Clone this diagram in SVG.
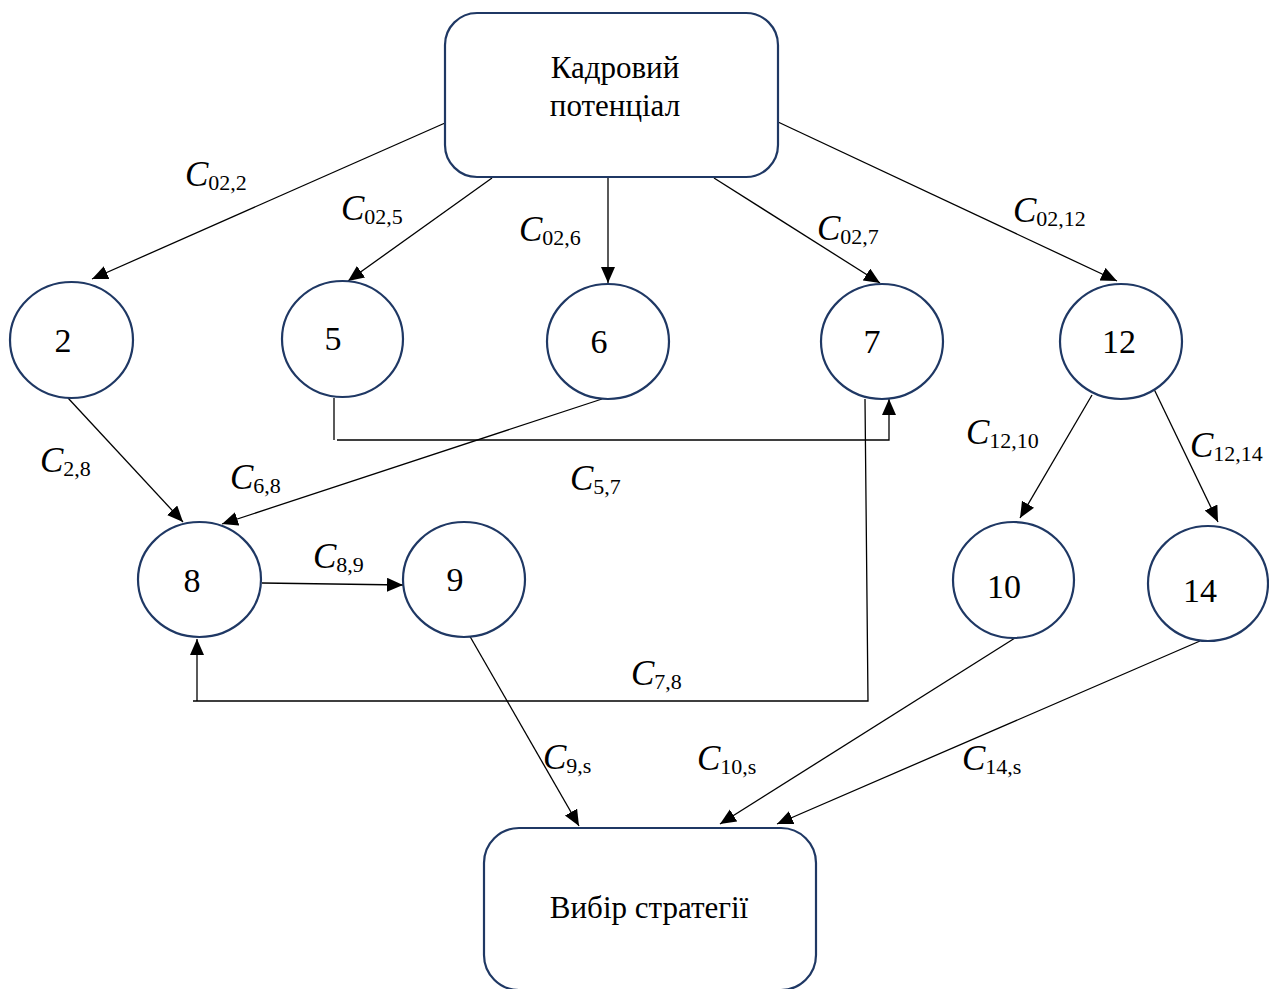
<svg xmlns="http://www.w3.org/2000/svg" width="1269" height="989" viewBox="0 0 1269 989">
<style>
.node{fill:#fff;stroke:#1f3864;stroke-width:2.2}
.num{font-family:"Liberation Serif",serif;font-size:34px;text-anchor:middle;fill:#000}
.box{font-family:"Liberation Serif",serif;font-size:31px;text-anchor:middle;fill:#000}
.lbl{font-family:"Liberation Serif",serif;font-size:35px;font-style:italic;fill:#000}
.sub{font-size:22px;font-style:normal}
.con{fill:none;stroke:#000;stroke-width:1.3}
</style>
<defs>
<marker id="arr" markerUnits="userSpaceOnUse" markerWidth="17" markerHeight="15" refX="16" refY="7" orient="auto">
<path d="M0,0 L16,7 L0,14 z" fill="#000"/>
</marker>
</defs>
<g id="connectors">
<line class="con" x1="445" y1="123" x2="92" y2="279" marker-end="url(#arr)"/>
<line class="con" x1="492" y1="178" x2="348" y2="281" marker-end="url(#arr)"/>
<line class="con" x1="608" y1="177" x2="608" y2="283" marker-end="url(#arr)"/>
<line class="con" x1="714" y1="178" x2="880" y2="283" marker-end="url(#arr)"/>
<line class="con" x1="778" y1="122" x2="1117" y2="281" marker-end="url(#arr)"/>
<line class="con" x1="68" y1="398" x2="183" y2="522" marker-end="url(#arr)"/>
<line class="con" x1="602" y1="399" x2="222" y2="524" marker-end="url(#arr)"/>
<polyline class="con" points="334,398 334,440"/>
<polyline class="con" points="337,440 889,440 889,399" marker-end="url(#arr)"/>
<polyline class="con" points="865,399 868,701 193,701"/>
<line class="con" x1="197" y1="701" x2="197" y2="639" marker-end="url(#arr)"/>
<line class="con" x1="262" y1="583" x2="403" y2="585" marker-end="url(#arr)"/>
<line class="con" x1="468" y1="633" x2="579" y2="826" marker-end="url(#arr)"/>
<line class="con" x1="1092" y1="395" x2="1020" y2="518" marker-end="url(#arr)"/>
<line class="con" x1="1153" y1="387" x2="1218" y2="522" marker-end="url(#arr)"/>
<line class="con" x1="1015" y1="638" x2="720" y2="824" marker-end="url(#arr)"/>
<line class="con" x1="1200" y1="641" x2="777" y2="824" marker-end="url(#arr)"/>
</g>
<g id="edge-labels">
<text class="lbl" x="185" y="186">C<tspan class="sub" dy="4">02,2</tspan></text>
<text class="lbl" x="341" y="220">C<tspan class="sub" dy="4">02,5</tspan></text>
<text class="lbl" x="519" y="241">C<tspan class="sub" dy="4">02,6</tspan></text>
<text class="lbl" x="817" y="240">C<tspan class="sub" dy="4">02,7</tspan></text>
<text class="lbl" x="1013" y="222">C<tspan class="sub" dy="4">02,12</tspan></text>
<text class="lbl" x="40" y="472">C<tspan class="sub" dy="4">2,8</tspan></text>
<text class="lbl" x="230" y="489">C<tspan class="sub" dy="4">6,8</tspan></text>
<text class="lbl" x="570" y="490">C<tspan class="sub" dy="4">5,7</tspan></text>
<text class="lbl" x="313" y="568">C<tspan class="sub" dy="4">8,9</tspan></text>
<text class="lbl" x="631" y="685">C<tspan class="sub" dy="4">7,8</tspan></text>
<text class="lbl" x="966" y="444">C<tspan class="sub" dy="4">12,10</tspan></text>
<text class="lbl" x="1190" y="457">C<tspan class="sub" dy="4">12,14</tspan></text>
<text class="lbl" x="543" y="769">C<tspan class="sub" dy="4">9,s</tspan></text>
<text class="lbl" x="697" y="770">C<tspan class="sub" dy="4">10,s</tspan></text>
<text class="lbl" x="962" y="770">C<tspan class="sub" dy="4">14,s</tspan></text>
</g>
<g id="node-top">
<rect class="node" x="445" y="13" width="333" height="164" rx="32"/>
<text class="box" x="615" y="78">Кадровий</text>
<text class="box" x="615" y="116">потенціал</text>
</g>
<g id="node-2"><ellipse class="node" cx="71.5" cy="340" rx="61.5" ry="58"/><text class="num" x="63" y="352">2</text></g>
<g id="node-5"><ellipse class="node" cx="342.5" cy="339" rx="60.5" ry="58"/><text class="num" x="333" y="350">5</text></g>
<g id="node-6"><ellipse class="node" cx="608" cy="341.5" rx="61" ry="57.5"/><text class="num" x="599" y="353">6</text></g>
<g id="node-7"><ellipse class="node" cx="882" cy="341.5" rx="61" ry="57.5"/><text class="num" x="872" y="353">7</text></g>
<g id="node-12"><ellipse class="node" cx="1121" cy="341.5" rx="61" ry="57.5"/><text class="num" x="1119" y="353">12</text></g>
<g id="node-8"><ellipse class="node" cx="199.5" cy="579.5" rx="61.5" ry="57.5"/><text class="num" x="192" y="592">8</text></g>
<g id="node-9"><ellipse class="node" cx="464" cy="579.5" rx="61" ry="57.5"/><text class="num" x="455" y="591">9</text></g>
<g id="node-10"><ellipse class="node" cx="1013.5" cy="580" rx="60.5" ry="58"/><text class="num" x="1004" y="598">10</text></g>
<g id="node-14"><ellipse class="node" cx="1208" cy="583.5" rx="60" ry="57.5"/><text class="num" x="1200" y="602">14</text></g>
<g id="node-bottom">
<rect class="node" x="484" y="828" width="332" height="162" rx="35"/>
<text class="box" x="649" y="918">Вибір стратегії</text>
</g>
</svg>
